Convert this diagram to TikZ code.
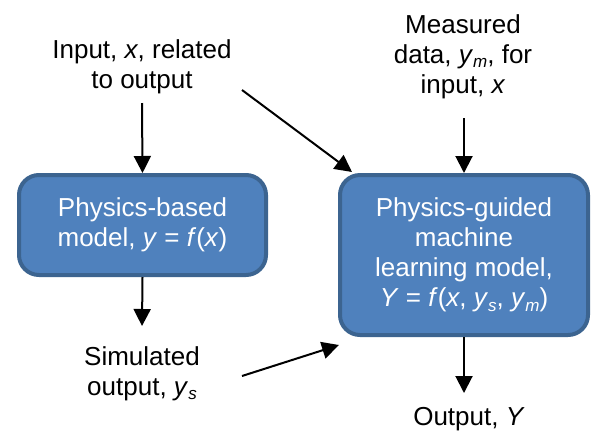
\documentclass[tikz,border=0pt]{standalone}
\usepackage{fontspec}
\setmainfont{Liberation Sans}
\usetikzlibrary{arrows.meta}
\definecolor{boxfill}{HTML}{4F81BD}
\definecolor{boxedge}{HTML}{3C6490}
\newcommand{\lowsub}[1]{\raisebox{-0.35ex}{\fontsize{17}{17}\selectfont\textit{#1}}}
\begin{document}
\begin{tikzpicture}[x=1pt,y=-1pt,
  model/.style={draw=boxedge, fill=boxfill, line width=4pt, rounded corners=20pt,
    text=white, align=center, font=\fontsize{26}{30}\selectfont, inner sep=0pt},
  caption/.style={align=center, font=\fontsize{26}{30}\selectfont, inner sep=0pt, anchor=base},
  arr/.style={line width=2pt, -{Triangle[length=17pt,width=17pt]}}]
\useasboundingbox (0,0) rectangle (593,432);

% model boxes
\node[model, minimum width=247pt, minimum height=100pt] (pbm) at (142.5,225)
  {Physics-based\\model, \textit{y} = \textit{f}(\textit{x})};
\node[model, minimum width=248pt, minimum height=160pt] (pgml) at (464,255)
  {Physics-guided\\machine\\learning model,\\\textit{Y} = \textit{f}(\textit{x}, \textit{y}\lowsub{s}, \textit{y}\lowsub{m})};

% captions (anchored at the baseline of their last line)
\node[caption] (input) at (142,88) {Input, \textit{x}, related\\to output};
\node[caption] (meas) at (463,93) {Measured\\data, \textit{y}\lowsub{m}, for\\input, \textit{x}};
\node[caption] (sim) at (142,395) {Simulated\\output, \textit{y}\lowsub{s}};
\node[caption] (out) at (469,425) {Output, \textit{Y}};

% free connector ends
\coordinate (inTail) at (142,103);
\coordinate (measTail) at (464,118);
\coordinate (simHead) at (142,326);
\coordinate (outHead) at (464,393);
\coordinate (crossTail) at (242,90);
\coordinate (crossHead) at (352,172);
\coordinate (simTail) at (242,376);
\coordinate (simIn) at (339,345);

% connectors
\draw[arr] (inTail) -- (pbm.north);
\draw[arr] (measTail) -- (pgml.north);
\draw[arr] (pbm.south) -- (simHead);
\draw[arr] (pgml.south) -- (outHead);
\draw[arr] (crossTail) -- (crossHead);
\draw[arr] (simTail) -- (simIn);
\end{tikzpicture}
\end{document}
